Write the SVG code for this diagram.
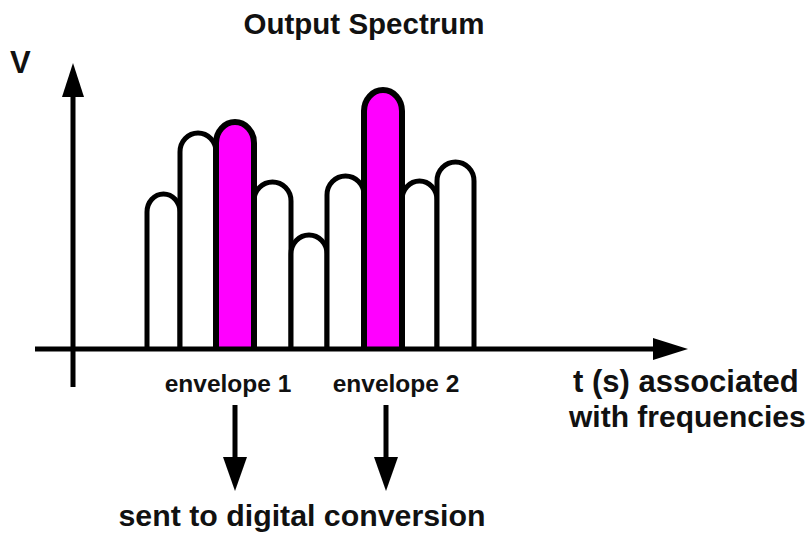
<svg xmlns="http://www.w3.org/2000/svg" width="810" height="537" viewBox="0 0 810 537">
  <style>
    .lbl { font-family: "Liberation Sans", Arial, sans-serif; font-weight: bold; fill: #111; }
    .bump { fill: #fff; stroke: #000; stroke-width: 5; }
    .sel { fill: #ff00ff; stroke: #000; stroke-width: 6; }
    .ax { stroke: #000; stroke-width: 5; fill: none; }
    .head { fill: #000; }
  </style>
  <rect width="810" height="537" fill="#fff"/>

  <text class="lbl" x="364" y="34" font-size="29.5" text-anchor="middle">Output Spectrum</text>
  <text class="lbl" x="10" y="73" font-size="31">V</text>

  <!-- spectrum envelopes -->
  <g id="envelopes">
    <path id="e1" class="bump" d="M147 350 V212 A16.5 18 0 0 1 180 212 V350"/>
    <path id="e2" class="bump" d="M180 350 V152 A18 19 0 0 1 216 152 V350"/>
    <path id="e4" class="bump" d="M254 350 V201 A18.5 19 0 0 1 291 201 V350"/>
    <path id="e5" class="bump" d="M291 350 V254 A18 19 0 0 1 327 254 V350"/>
    <path id="e6" class="bump" d="M327 350 V195 A18.5 19 0 0 1 364 195 V350"/>
    <path id="e8" class="bump" d="M402 350 V200 A17.5 19 0 0 1 437 200 V350"/>
    <path id="e9" class="bump" d="M437 350 V181 A18.5 19 0 0 1 474 181 V350"/>
    <path id="env1" class="sel" d="M216 350 V143 A19 21 0 0 1 254 143 V350"/>
    <path id="env2" class="sel" d="M364 350 V111 A19 21 0 0 1 402 111 V350"/>
  </g>

  <!-- axes -->
  <g id="axes">
    <line class="ax" x1="73" y1="387" x2="73" y2="95"/>
    <polygon class="head" points="62,97 84,97 73,63"/>
    <line class="ax" x1="35" y1="349" x2="655" y2="349"/>
    <polygon class="head" points="653,338 653,360 688,349"/>
  </g>

  <text class="lbl" x="573" y="392" font-size="31">t (s) associated</text>
  <text class="lbl" x="569" y="427" font-size="30">with frequencies</text>

  <text class="lbl" x="228" y="392" font-size="24.5" text-anchor="middle">envelope 1</text>
  <text class="lbl" x="396" y="392" font-size="24.5" text-anchor="middle">envelope 2</text>

  <!-- connectors -->
  <g id="connectors">
    <line class="ax" x1="235" y1="405" x2="235" y2="459"/>
    <polygon class="head" points="223,457 247,457 235,491"/>
    <line class="ax" x1="386" y1="405" x2="386" y2="459"/>
    <polygon class="head" points="374,457 398,457 386,491"/>
  </g>

  <text class="lbl" x="302" y="526" font-size="30.3" text-anchor="middle">sent to digital conversion</text>
</svg>
